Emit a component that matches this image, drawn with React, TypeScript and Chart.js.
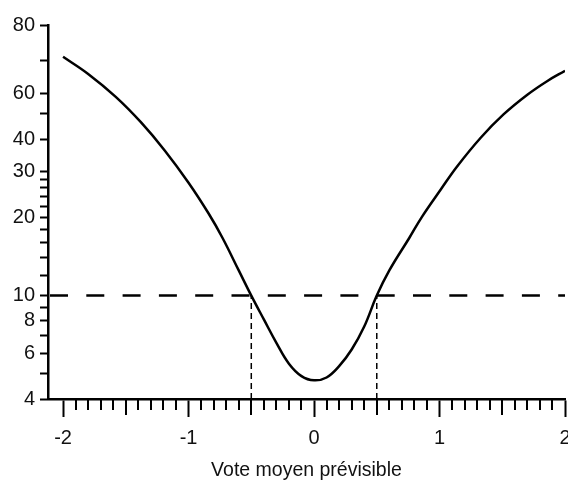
import React, { useEffect, useRef } from "react";
import { Chart, registerables } from "chart.js";

Chart.register(...registerables);

// ---- data ----
const curveX = [-2.0, -1.8, -1.58, -1.38, -1.19, -1.0, -0.84, -0.73, -0.6, -0.5, -0.4, -0.3, -0.2, -0.1, 0.0, 0.1, 0.2, 0.3, 0.4, 0.5, 0.6, 0.76, 0.86, 1.01, 1.14, 1.33, 1.51, 1.7, 1.86, 2.0];
const curveY = [83, 71.3, 58.2, 46.5, 36.2, 27.2, 20.7, 16.7, 12.5, 10.0, 8.1, 6.58, 5.47, 4.9, 4.72, 4.84, 5.35, 6.2, 7.6, 10.0, 12.5, 16.7, 20.1, 25.6, 31.4, 40.6, 49.8, 59.3, 67.0, 73.3];

const thresholdY = 10;
const thresholdX = [-0.5, 0.5];

const xMin = -2.12;
const xMax = 2;
const yMin = 4;
const yMax = 110;

const xTickValues = [-2, -1, 0, 1, 2];
const xTickLabels = ["-2", "-1", "0", "1", "2"];
const yMajorValues = [4, 6, 8, 10, 20, 30, 40, 60, 110];
const yMajorLabels = ["4", "6", "8", "10", "20", "30", "40", "60", "80"];
const yMinorValues = [5, 7, 9, 12, 14, 16, 18, 22, 24, 26, 28, 50, 80];
const xAxisTitle = "Vote moyen prévisible";

const FONT = "'Liberation Sans', Arial, Helvetica, sans-serif";

const minorXTicks = {
  id: "minorXTicks",
  afterDraw(chart: any) {
    const sx = chart.scales.x;
    const ctx = chart.ctx;
    const y0 = sx.top;
    ctx.save();
    ctx.strokeStyle = "#000";
    ctx.lineWidth = 2;
    for (let i = -20; i <= 20; i++) {
      if (i % 10 === 0) continue;
      const v = i / 10;
      const len = i % 5 === 0 ? 16 : 11;
      const px = Math.round(sx.getPixelForValue(v));
      ctx.beginPath();
      ctx.moveTo(px, y0);
      ctx.lineTo(px, y0 + len);
      ctx.stroke();
    }
    ctx.restore();
  },
};

export default function App() {
  const ref = useRef<HTMLCanvasElement>(null);

  useEffect(() => {
    if (!ref.current) return;
    const chart = new Chart(ref.current, {
      type: "line",
      data: {
        datasets: [
          {
            data: curveX.map((x, i) => ({ x, y: curveY[i] })),
            borderColor: "#000",
            borderWidth: 2.5,
            pointRadius: 0,
            fill: false,
            tension: 0.4,
          },
          {
            data: [
              { x: xMin, y: thresholdY },
              { x: xMax, y: thresholdY },
            ],
            borderColor: "#000",
            borderWidth: 2.5,
            borderDash: [18, 18.3],
            borderDashOffset: -2,
            pointRadius: 0,
            fill: false,
          },
          ...thresholdX.map((tx) => ({
            data: [
              { x: tx, y: yMin },
              { x: tx, y: thresholdY },
            ],
            borderColor: "#000",
            borderWidth: 1.5,
            borderDash: [6, 4],
            pointRadius: 0,
            fill: false,
          })),
        ],
      },
      options: {
        animation: false,
        responsive: false,
        devicePixelRatio: 1,
        layout: { padding: { top: 25, right: 3, left: 0, bottom: 0 } },
        plugins: {
          legend: { display: false },
          tooltip: { enabled: false },
        },
        scales: {
          x: {
            type: "linear",
            min: xMin,
            max: xMax,
            afterBuildTicks: (scale: any) => {
              scale.ticks = xTickValues.map((v) => ({ value: v }));
            },
            afterFit: (scale: any) => {
              scale.height = 84;
              scale.paddingLeft = 0;
              scale.paddingRight = 0;
            },
            border: { display: true, color: "#000", width: 2.5 },
            grid: {
              display: true,
              drawOnChartArea: false,
              drawTicks: true,
              tickLength: 18,
              tickColor: "#000",
              tickWidth: 2,
            },
            ticks: {
              autoSkip: false,
              maxRotation: 0,
              padding: 9,
              color: "#111",
              font: { family: FONT, size: 20 },
              callback: (value: any) => {
                const i = xTickValues.indexOf(Number(value));
                return i >= 0 ? xTickLabels[i] : "";
              },
            },
            title: {
              display: true,
              text: xAxisTitle,
              color: "#111",
              font: { family: FONT, size: 19.5 },
              padding: { top: 0, bottom: 1 },
            },
          },
          y: {
            type: "logarithmic",
            min: yMin,
            max: yMax,
            afterBuildTicks: (scale: any) => {
              scale.ticks = [...yMajorValues, ...yMinorValues]
                .sort((a, b) => a - b)
                .map((v) => ({ value: v }));
            },
            afterFit: (scale: any) => {
              scale.width = 48;
              scale.paddingTop = 0;
              scale.paddingBottom = 0;
            },
            border: { display: true, color: "#000", width: 2.5 },
            grid: {
              display: true,
              drawOnChartArea: false,
              drawTicks: true,
              tickLength: 8,
              tickColor: "#000",
              tickWidth: 2,
            },
            ticks: {
              autoSkip: false,
              padding: 5,
              color: "#111",
              font: { family: FONT, size: 20 },
              callback: (value: any) => {
                const i = yMajorValues.indexOf(Number(value));
                return i >= 0 ? yMajorLabels[i] : "";
              },
            },
          },
        },
      },
      plugins: [minorXTicks],
    } as any);
    return () => chart.destroy();
  }, []);

  return (
    <div style={{ position: "absolute", left: 0, top: 0, width: 568, height: 483, background: "#fff" }}>
      <canvas ref={ref} width={568} height={483} style={{ display: "block" }} />
    </div>
  );
}
